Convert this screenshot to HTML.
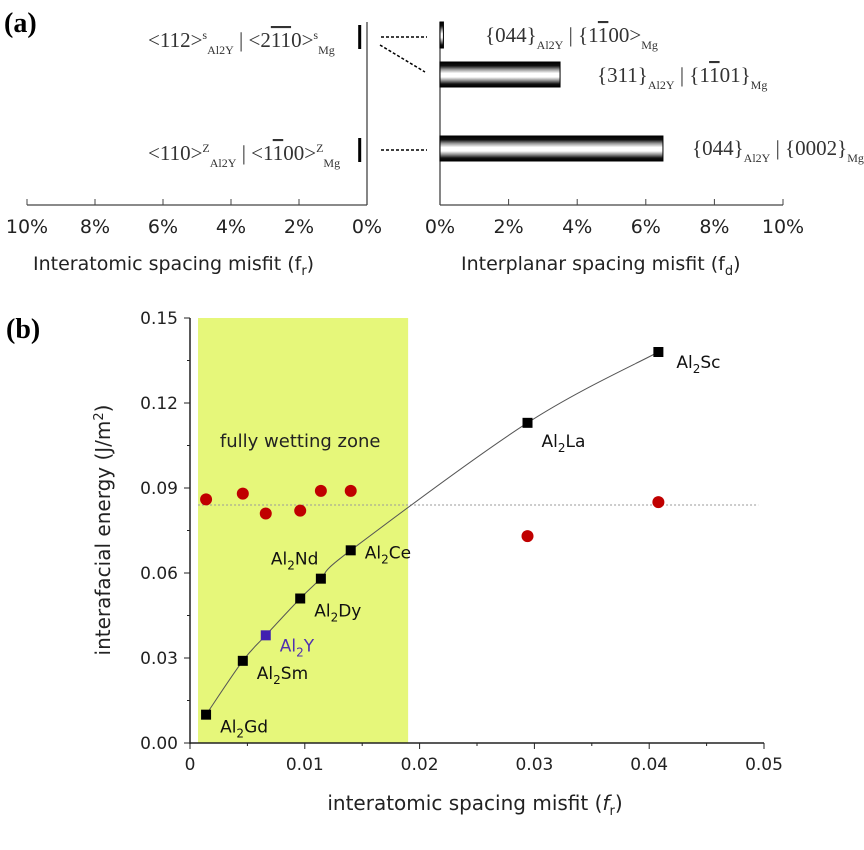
<!DOCTYPE html>
<html><head><meta charset="utf-8"><style>
body{margin:0;background:#fff;width:864px;height:845px;overflow:hidden}
svg text{font-family:"DejaVu Sans","Liberation Sans",sans-serif}
</style></head><body>
<svg width="864" height="845" viewBox="0 0 864 845">
<defs>
<linearGradient id="stripe" x1="0" y1="0" x2="0" y2="1">
<stop offset="0" stop-color="#000"/><stop offset="0.15" stop-color="#111"/><stop offset="0.3" stop-color="#999"/><stop offset="0.45" stop-color="#fff"/><stop offset="0.6" stop-color="#fff"/><stop offset="0.75" stop-color="#888"/><stop offset="0.88" stop-color="#111"/><stop offset="1" stop-color="#000"/>
</linearGradient>
</defs>
<text x="4" y="32" font-size="28" font-weight="bold" style="font-family:'Liberation Serif',serif">(a)</text>
<g id="pa"></g>
<text x="6" y="338" font-size="28" font-weight="bold" style="font-family:'Liberation Serif',serif">(b)</text>
<g id="pb"></g>
</svg>
<script>
// Panel (a) data
const aBarLabels=["{044}|{1-100}","{311}|{1-101}","{044}|{0002}"];
const aInterplanar=[0.1,3.5,6.5];
const aInteratomic=[0.2,0.2];
const aTicks=["10%","8%","6%","4%","2%","0%"];
const aTicksR=["0%","2%","4%","6%","8%","10%"];
// Panel (b) data
const bNames=["Al2Gd","Al2Sm","Al2Y","Al2Dy","Al2Nd","Al2Ce","Al2La","Al2Sc"];
const bMisfit=[0.0014,0.0046,0.0066,0.0096,0.0114,0.0140,0.0294,0.0408];
const bEnergy=[0.010,0.029,0.038,0.051,0.058,0.068,0.113,0.138];
const bRed=[0.086,0.088,0.081,0.082,0.089,0.089,0.073,0.085];
const bXTicks=[0,0.01,0.02,0.03,0.04,0.05];
const bYTicks=[0,0.03,0.06,0.09,0.12,0.15];
const NS="http://www.w3.org/2000/svg";
function mk(p,t,a,txt){const e=document.createElementNS(NS,t);for(const k in a)e.setAttribute(k,a[k]);if(txt!==undefined)e.textContent=txt;p.appendChild(e);return e;}
// ---- panel a
const pa=document.getElementById('pa');
const ax=v=>440+v*34.3, axl=v=>367-v*34.0;
let l=mk(pa,'line',{x1:367,y1:22,x2:367,y2:205,stroke:'#444','stroke-width':1.3});

l=mk(pa,'line',{x1:440,y1:22,x2:440,y2:205,stroke:'#444','stroke-width':1.3});

l=mk(pa,'line',{x1:axl(10),y1:205,x2:367,y2:205,stroke:'#444','stroke-width':1.3});

l=mk(pa,'line',{x1:440,y1:205,x2:ax(10),y2:205,stroke:'#444','stroke-width':1.3});

for(let i=0;i<6;i++){
 const xl=axl(10-2*i), xr=ax(2*i);
 mk(pa,'line',{x1:xl,y1:199,x2:xl,y2:205,stroke:'#444'});
 mk(pa,'line',{x1:xr,y1:199,x2:xr,y2:205,stroke:'#444'});
 let t=mk(pa,'text',{x:xl,y:233,'font-size':19,'text-anchor':'middle',fill:'#222'},aTicks[i]);
 
 t=mk(pa,'text',{x:xr,y:233,'font-size':19,'text-anchor':'middle',fill:'#222'},aTicksR[i]);
 
}
let t=mk(pa,'text',{x:33,y:270,'font-size':19,fill:'#222'},'Interatomic spacing misfit (f');

mk(t,'tspan',{'font-size':13,dy:5},'r');mk(t,'tspan',{dy:-5},')');
t=mk(pa,'text',{x:461,y:270,'font-size':19,fill:'#222'},'Interplanar spacing misfit (f');

mk(t,'tspan',{'font-size':13,dy:5},'d');mk(t,'tspan',{dy:-5},')');
const barY=[22,62,136], barH=[26,25,25];
for(let i=0;i<3;i++){
 const r=mk(pa,'rect',{x:440,y:barY[i],width:Math.max(ax(aInterplanar[i])-440,3),height:barH[i],fill:'url(#stripe)',stroke:'#000','stroke-width':1});
 
}
const lbY=[37,150];
for(let i=0;i<2;i++){
 const r=mk(pa,'rect',{x:axl(aInteratomic[i])-2,y:lbY[i]-12,width:3,height:24,fill:'#000'});
 
}
mk(pa,'line',{x1:381,y1:37,x2:427,y2:37,stroke:'#000','stroke-width':1.5,'stroke-dasharray':'3,2'});
mk(pa,'line',{x1:380,y1:45,x2:425,y2:72,stroke:'#000','stroke-width':1.5,'stroke-dasharray':'3,2'});
mk(pa,'line',{x1:381,y1:150,x2:427,y2:150,stroke:'#000','stroke-width':1.5,'stroke-dasharray':'3,2'});
function lab(x,y,parts,name){
 const t=mk(pa,'text',{x:x,y:y,'font-size':21,fill:'#333',style:"font-family:'Liberation Serif',serif"});
 
 let cur=0;
 for(const [s,k] of parts){
  const target=k==='sup'?-8:k==='sub'?7:0;
  const a={dy:target-cur,'font-size':(k==='sup'||k==='sub')?12:21};
  if(k==='ov')a['text-decoration']='overline';
  mk(t,'tspan',a,s);cur=target;
 }
}
lab(148,47,[["<112>","n"],["s","sup"],["Al2Y","sub"],[" | <2","n"],["11","ov"],["0>","n"],["s","sup"],["Mg","sub"]],'zone-axis-label-s');
lab(148,160,[["<110>","n"],["Z","sup"],["Al2Y","sub"],[" | <1","n"],["1","ov"],["00>","n"],["Z","sup"],["Mg","sub"]],'zone-axis-label-z');
lab(485,42,[["{044}","n"],["Al2Y","sub"],[" | {1","n"],["1","ov"],["00>","n"],["Mg","sub"]],'plane-label-1');
lab(597,82,[["{311}","n"],["Al2Y","sub"],[" | {1","n"],["1","ov"],["01}","n"],["Mg","sub"]],'plane-label-2');
lab(692,155,[["{044}","n"],["Al2Y","sub"],[" | {0002}","n"],["Mg","sub"]],'plane-label-3');
// ---- panel b
const pb=document.getElementById('pb');
const X=v=>190+v/0.05*574, Y=v=>743-v/0.15*425;
let r=mk(pb,'rect',{x:X(0.0007),y:Y(0.15),width:X(0.019)-X(0.0007),height:Y(0)-Y(0.15),fill:'#e6f77a'});

t=mk(pb,'text',{x:X(0.0096),y:Y(0.1045),'font-size':18,'text-anchor':'middle',fill:'#222'},'fully wetting zone');

l=mk(pb,'line',{x1:X(0.0007),y1:Y(0.084),x2:X(0.0495),y2:Y(0.084),stroke:'#999','stroke-dasharray':'2,2'});

l=mk(pb,'line',{x1:190,y1:Y(0.15),x2:190,y2:Y(0)+1,stroke:'#222','stroke-width':1.5});

l=mk(pb,'line',{x1:190,y1:Y(0),x2:X(0.05),y2:Y(0),stroke:'#222','stroke-width':1.5});

for(const v of bYTicks){
 mk(pb,'line',{x1:184,y1:Y(v),x2:190,y2:Y(v),stroke:'#222'});
 if(v<0.15) mk(pb,'line',{x1:187,y1:Y(v+0.015),x2:190,y2:Y(v+0.015),stroke:'#222'});
 const tt=mk(pb,'text',{x:178,y:Y(v)+6,'font-size':17,'text-anchor':'end',fill:'#222'},v.toFixed(2));
 
}
for(const v of bXTicks){
 mk(pb,'line',{x1:X(v),y1:Y(0),x2:X(v),y2:Y(0)+6,stroke:'#222'});
 if(v<0.05) mk(pb,'line',{x1:X(v+0.005),y1:Y(0),x2:X(v+0.005),y2:Y(0)+3,stroke:'#222'});
 const tt=mk(pb,'text',{x:X(v),y:Y(0)+27,'font-size':17,'text-anchor':'middle',fill:'#222'},v===0?'0':String(v));
 
}
t=mk(pb,'text',{x:475,y:810,'font-size':20,'text-anchor':'middle',fill:'#222'},'interatomic spacing misfit (');

mk(t,'tspan',{'font-style':'italic'},'f');mk(t,'tspan',{'font-size':13,dy:5},'r');mk(t,'tspan',{dy:-5},')');
t=mk(pb,'text',{x:0,y:0,'font-size':20,'text-anchor':'middle',fill:'#222',transform:'translate(110,530) rotate(-90)'},'interafacial energy (J/m');

mk(t,'tspan',{'font-size':13,dy:-7},'2');mk(t,'tspan',{dy:7},')');
const pts=bMisfit.map((m,i)=>[X(m),Y(bEnergy[i])]);
let d='M'+pts[0][0]+','+pts[0][1];
for(let i=0;i<pts.length-1;i++){const p0=pts[Math.max(i-1,0)],p1=pts[i],p2=pts[i+1],p3=pts[Math.min(i+2,pts.length-1)];
 d+=' C'+(p1[0]+(p2[0]-p0[0])/6)+','+(p1[1]+(p2[1]-p0[1])/6)+' '+(p2[0]-(p3[0]-p1[0])/6)+','+(p2[1]-(p3[1]-p1[1])/6)+' '+p2[0]+','+p2[1];}
l=mk(pb,'path',{d:d,fill:'none',stroke:'#555','stroke-width':1});

for(let i=0;i<bMisfit.length;i++){
 const c=mk(pb,'circle',{cx:X(bMisfit[i]),cy:Y(bRed[i]),r:6,fill:'#c00000'});
 
}
const lblOff=[[14,18],[14,18],[14,16],[14,18],[-50,-14],[14,8],[14,24],[18,16]];
for(let i=0;i<bMisfit.length;i++){
 const blue=bNames[i]==='Al2Y';
 const s=mk(pb,'rect',{x:X(bMisfit[i])-5,y:Y(bEnergy[i])-5,width:10,height:10,fill:blue?'#4020b0':'#000'});
 
 const tt=mk(pb,'text',{x:X(bMisfit[i])+lblOff[i][0],y:Y(bEnergy[i])+lblOff[i][1],'font-size':17,fill:blue?'#5030b0':'#111'},'Al');
 
 mk(tt,'tspan',{'font-size':12,dy:5},'2');mk(tt,'tspan',{dy:-5},bNames[i].slice(3));
}
</script>
</body></html>
